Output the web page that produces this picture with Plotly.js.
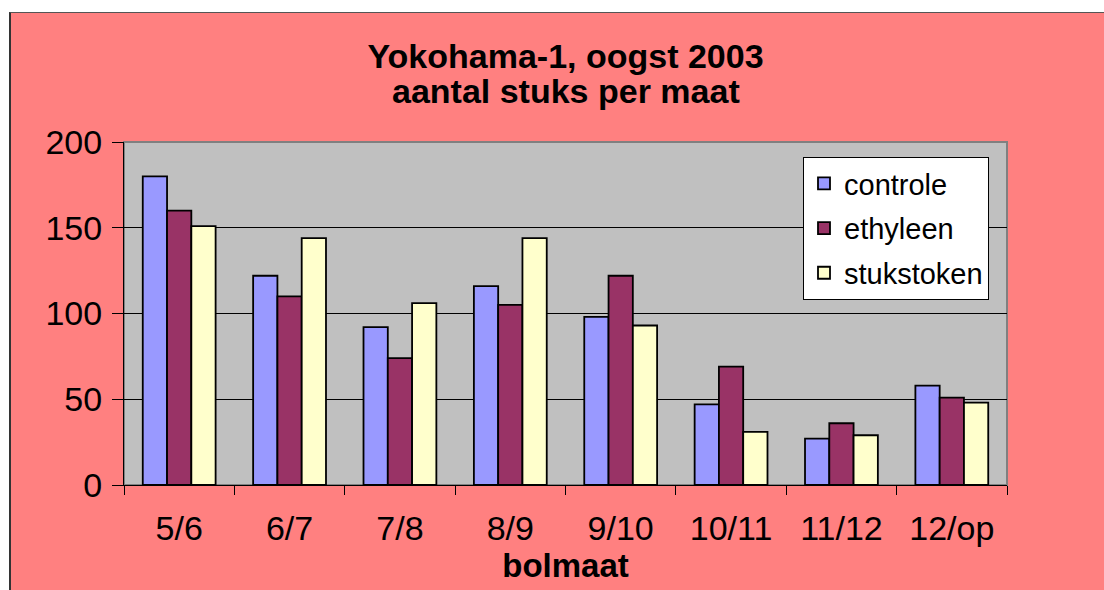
<!DOCTYPE html>
<html>
<head>
<meta charset="utf-8">
<script src="https://cdn.plot.ly/plotly-3.0.1.min.js"></script>
<style>
html,body{margin:0;padding:0;background:#ffffff;overflow:hidden;width:1104px;height:590px;}
#frame{position:absolute;left:9px;top:12px;width:1095px;height:578px;box-sizing:border-box;border-left:2px solid #333333;border-top:1px solid #555555;background:#FF8080;}
#chart{width:1093px;height:577px;}
</style>
</head>
<body>
<div id="frame"><div id="chart"></div></div>
<script>
var categories = ["5/6","6/7","7/8","8/9","9/10","10/11","11/12","12/op"];
var controle   = [180, 122, 92, 116, 98, 47, 27, 58];
var ethyleen   = [160, 110, 74, 105, 122, 69, 36, 51];
var stukstoken = [151, 144, 106, 144, 93, 31, 29, 48];
var seriesNames = ["controle","ethyleen","stukstoken"];
var seriesColors = ["#9999FF","#993366","#FFFFCC"];
var yTicks = [0, 50, 100, 150, 200];

var values = [controle, ethyleen, stukstoken];
var traces = values.map(function(v, i){
  return {
    type: "bar",
    name: seriesNames[i],
    x: categories,
    y: v,
    legendgroup: "g" + i,
    marker: {color: seriesColors[i], line: {color: "#000000", width: 1.8}}
  };
});

var font = "Liberation Sans, Arial, sans-serif";
var layout = {
  width: 1093, height: 577,
  margin: {l: 113, r: 97, t: 129, b: 105, pad: 0},
  paper_bgcolor: "#FF8080",
  plot_bgcolor: "#C0C0C0",
  barmode: "group",
  bargap: 0.34,
  bargroupgap: 0,
  showlegend: true,
  title: {
    text: "<b>Yokohama-1, oogst 2003</b>",
    font: {family: font, size: 34, color: "#000000"},
    x: 0.5, xref: "paper", xanchor: "center",
    y: 1 - 43/577, yref: "container", yanchor: "middle"
  },
  annotations: [{
    text: "<b>aantal stuks per maat</b>",
    xref: "paper", yref: "paper", x: 0.5, y: 1 + (129 - 78)/343,
    xanchor: "center", yanchor: "middle", showarrow: false,
    font: {family: font, size: 34, color: "#000000"}
  }],
  xaxis: {
    type: "category",
    tickson: "boundaries",
    ticks: "outside", ticklen: 9, tickwidth: 1, tickcolor: "#000000",
    showline: true, linecolor: "#000000", linewidth: 1,
    showgrid: false, zeroline: false,
    tickfont: {family: font, size: 34, color: "#000000"},
    ticklabelstandoff: 13,
    title: {text: "<b>bolmaat</b>", font: {family: font, size: 33, color: "#000000"}, standoff: 0},
    automargin: false
  },
  yaxis: {
    range: [0, 200],
    tickvals: yTicks,
    ticks: "outside", ticklen: 11, tickwidth: 1, tickcolor: "#000000",
    showline: true, linecolor: "#000000", linewidth: 1,
    showgrid: true, gridcolor: "#000000", gridwidth: 1,
    zeroline: false,
    tickfont: {family: font, size: 34, color: "#000000"},
    ticklabelstandoff: 3,
    automargin: false
  },
  legend: {
    x: (803 - 124)/883, xanchor: "left",
    y: (485 - 157)/343, yanchor: "top",
    bgcolor: "#FFFFFF", bordercolor: "#000000", borderwidth: 1,
    font: {family: font, size: 29, color: "#000000"},
    tracegroupgap: 4,
    traceorder: "grouped"
  },
  shapes: [{
    type: "rect", xref: "paper", yref: "paper", x0: 0, x1: 1, y0: 0, y1: 1,
    line: {color: "#808080", width: 2}, layer: "below"
  }]
};

Plotly.newPlot("chart", traces, layout, {displayModeBar: false, staticPlot: true});
</script>
</body>
</html>
